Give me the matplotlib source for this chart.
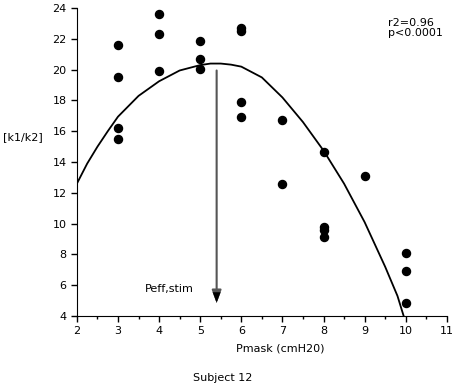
import numpy as np
import matplotlib
matplotlib.use("Agg")
import matplotlib.pyplot as plt
from matplotlib.ticker import MultipleLocator

# measured points, k1/k2 ratio vs mask pressure
pmask = [3, 3, 3, 3,
         4, 4, 4,
         5, 5, 5,
         6, 6, 6, 6,
         7, 7,
         8, 8, 8, 8,
         9,
         10, 10, 10]
ratio = [21.6, 19.5, 16.2, 15.5,
         23.65, 22.3, 19.9,
         21.85, 20.7, 20.05,
         22.7, 22.5, 17.9, 16.9,
         16.75, 12.55,
         14.65, 9.8, 9.6, 9.1,
         13.1,
         8.1, 6.95, 4.85]

# fitted curve
curve_x = [2.0, 2.25, 2.5, 2.75, 3.0, 3.5, 4.0, 4.5, 5.0, 5.25, 5.5, 5.75, 6.0, 6.5, 7.0, 7.5, 8.0, 8.5, 9.0, 9.5, 9.8, 9.95]
curve_y = [12.6, 13.9, 15.0, 16.0, 16.95, 18.3, 19.25, 19.95, 20.3, 20.4, 20.4, 20.33, 20.2, 19.5, 18.2, 16.6, 14.75, 12.6, 10.1, 7.2, 5.3, 4.0]

# Peff,stim arrow
peff_x = 5.4
arrow_top = 19.95
arrow_tip = 4.85

fig = plt.figure(figsize=(4.55, 3.88), dpi=100)
ax = fig.add_axes([0.169, 0.1856, 0.813, 0.7934])

ax.plot(curve_x, curve_y, color="black", lw=1.3, zorder=2)
ax.plot(pmask, ratio, "o", color="black", ms=5.8, zorder=3)

ax.annotate("", xy=(peff_x, arrow_tip), xytext=(peff_x, arrow_top),
            arrowprops=dict(arrowstyle="-|>,head_length=0.75,head_width=0.28",
                            color="#555555", lw=1.5, shrinkA=0, shrinkB=0))
# black head on top of the grey shaft
ax.annotate("", xy=(peff_x, arrow_tip), xytext=(peff_x, arrow_tip + 0.7),
            arrowprops=dict(arrowstyle="-|>,head_length=0.75,head_width=0.28",
                            color="black", lw=0.1, shrinkA=0, shrinkB=0))

ax.set_xlim(2, 11)
ax.set_ylim(4, 24)
ax.xaxis.set_major_locator(MultipleLocator(1))
ax.xaxis.set_minor_locator(MultipleLocator(0.5))
ax.yaxis.set_major_locator(MultipleLocator(2))

ax.spines["top"].set_visible(False)
ax.spines["right"].set_visible(False)
ax.tick_params(axis="both", which="major", labelsize=8, length=4, width=1, direction="out")
ax.tick_params(axis="x", which="minor", length=2.5, width=1, direction="out")

ax.text(-0.2, 0.58, "[k1/k2]", transform=ax.transAxes, fontsize=8, va="center", ha="left")
ax.text(6.95, 1.86, "Pmask (cmH20)", fontsize=8, ha="center", va="center")
ax.text(3.65, 5.75, "Peff,stim", fontsize=8, ha="left", va="center")
ax.text(9.58, 22.7, "r2=0.96\np<0.0001", fontsize=8, ha="left", va="center", linespacing=0.95)
fig.text(0.49, 0.025, "Subject 12", fontsize=8, ha="center", va="center")

fig.savefig("out.png", dpi=100)
